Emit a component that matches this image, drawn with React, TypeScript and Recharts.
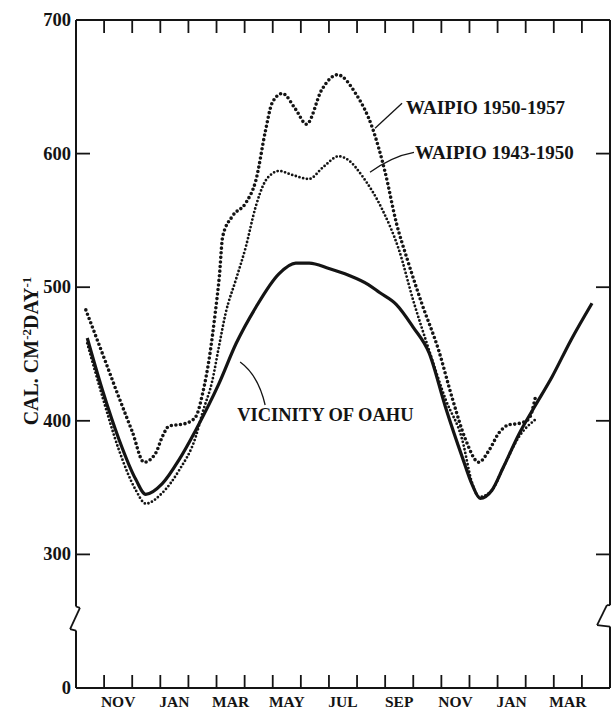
import React from 'react';
import { LineChart, Line, XAxis, YAxis, ReferenceDot, ReferenceLine } from 'recharts';

// x is a month index: 0 = 1 Oct, 19 = 1 May of the second year
const monthTicks = [1, 2, 3, 4, 5, 6, 7, 8, 9, 10, 11, 12, 13, 14, 15, 16, 17, 18];
const monthLabels = ['NOV', 'JAN', 'MAR', 'MAY', 'JUL', 'SEP', 'NOV', 'JAN', 'MAR'];
const monthLabelAt = [1.5, 3.5, 5.5, 7.5, 9.5, 11.5, 13.5, 15.5, 17.5];
const X_DOMAIN: [number, number] = [0, 19];

// axis is broken below 300, the 200 position carries the "0" label
const yTicks = [200, 300, 400, 500, 600, 700];
const yTickLabels = ['0', '300', '400', '500', '600', '700'];
const yInnerTicks = [300, 400, 500, 600];
const Y_DOMAIN: [number, number] = [200, 700];

const oahuMonths = [0.4, 0.94, 1.53, 2.13, 2.48, 3.07, 3.67, 4.26, 5.09, 5.7, 6.4, 7.22, 7.82, 8.3, 9.0, 9.7, 10.4, 10.8, 11.4, 12.0, 12.56, 13.15, 13.74, 14.1, 14.38, 14.8, 15.2, 15.76, 16.3, 16.94, 17.6, 18.36];
const oahuValues = [462, 423, 386, 356, 345, 353, 371, 393, 428, 458, 485, 510, 518, 518, 514, 509, 502, 496, 487, 470, 451, 410, 373, 352, 342, 348, 365, 390, 410, 433, 460, 488];

const waipio5057Months = [0.35, 1.0, 1.5, 2.0, 2.42, 2.84, 3.07, 3.31, 3.9, 4.26, 4.5, 4.75, 4.95, 5.1, 5.22, 5.56, 6.04, 6.4, 6.75, 6.98, 7.34, 7.82, 8.2, 8.75, 9.3, 9.95, 10.55, 11.0, 11.4, 11.8, 12.3, 12.9, 13.4, 13.86, 14.33, 14.7, 15.05, 15.4, 15.76, 16.1, 16.35];
const waipio5057Values = [483, 447, 419, 392, 369, 376, 388, 396, 398, 403, 420, 448, 480, 508, 538, 553, 563, 580, 618, 638, 645, 633, 622, 648, 659, 645, 619, 586, 548, 520, 488, 453, 416, 386, 369, 378, 391, 397, 398, 401, 418];

const waipio4350Months = [0.4, 0.94, 1.53, 2.13, 2.48, 3.07, 3.67, 4.26, 4.5, 4.85, 5.09, 5.33, 5.68, 6.04, 6.39, 6.7, 6.98, 7.22, 7.7, 8.29, 8.8, 9.35, 9.7, 10.19, 10.9, 11.49, 12.0, 12.56, 13.15, 13.74, 14.1, 14.35, 14.8, 15.2, 15.76, 16.35];
const waipio4350Values = [458, 418, 378, 348, 338, 346, 363, 388, 406, 430, 456, 481, 505, 530, 560, 578, 585, 587, 584, 581, 590, 598, 595, 583, 558, 528, 490, 453, 416, 386, 353, 343, 348, 365, 388, 401];

const toPoints = (months: number[], values: number[]) =>
  months.map((m, i) => ({ m, v: values[i] }));

const oahu = toPoints(oahuMonths, oahuValues);
const waipio5057 = toPoints(waipio5057Months, waipio5057Values);
const waipio4350 = toPoints(waipio4350Months, waipio4350Values);

const INK = '#141414';
const FONT = '"Liberation Serif", "DejaVu Serif", serif';

type Seg = [{ x: number; y: number }, { x: number; y: number }];
const seg = (x1: number, y1: number, x2: number, y2: number): Seg => [
  { x: x1, y: y1 },
  { x: x2, y: y2 },
];

// zigzag break marks on both vertical axes, between 243 and 262
const breakSegments: Seg[] = [
  seg(0, 261, 0.14, 260),
  seg(0.14, 260, -0.21, 244),
  seg(-0.21, 244, 0, 243),
  seg(19, 262, 18.89, 262),
  seg(18.89, 262, 18.54, 247),
  seg(18.54, 247, 19, 246),
];

// inward tick marks: anchored on the axis value, drawn as a short stroke
type TickMark = { x: number; y: number; dx: number; dy: number };
const tickMarks: TickMark[] = [
  ...monthTicks.map((m) => ({ x: m, y: 700, dx: 0, dy: 13 })),
  ...monthTicks.map((m) => ({ x: m, y: 200, dx: 0, dy: -13 })),
  ...yInnerTicks.map((v) => ({ x: 0, y: v, dx: 14, dy: 0 })),
  ...yInnerTicks.map((v) => ({ x: 19, y: v, dx: -14, dy: 0 })),
];

const tickShape = (dx: number, dy: number) => (props: any) => {
  const { cx, cy } = props;
  return (
    <g transform={`translate(${cx},${cy})`}>
      <path d={`M0,0L${dx},${dy}`} fill="none" stroke={INK} strokeWidth={1.8} />
    </g>
  );
};

const renderMonthLabel = (props: any) => {
  const { x, y, payload } = props;
  const label = monthLabels[monthLabelAt.indexOf(payload.value)];
  return (
    <text x={x} y={y + 19} textAnchor="middle" fontFamily={FONT} fontWeight="bold" fontSize={15.5} fill={INK}>
      {label}
    </text>
  );
};

const renderLeftLabel = (props: any) => {
  const { x, y, payload } = props;
  const label = yTickLabels[yTicks.indexOf(payload.value)];
  return (
    <text x={x - 5} y={y + 6} textAnchor="end" fontFamily={FONT} fontWeight="bold" fontSize={18.5} fill={INK}>
      {label}
    </text>
  );
};

// rotated unit title beside the left axis
const UnitTitle = ({ viewBox }: any) => {
  const { x, y, height } = viewBox;
  const cy = y + height * 0.5 - 3;
  return (
    <text
      transform={`translate(${x + 38},${cy}) rotate(-90)`}
      textAnchor="middle"
      fontFamily={FONT}
      fontWeight="bold"
      fontSize={20}
      fill={INK}
    >
      CAL. CM<tspan dy={-7} fontSize={13}>-2</tspan>
      <tspan dy={7}>DAY</tspan>
      <tspan dy={-7} fontSize={13}>-1</tspan>
    </text>
  );
};

// series name with a thin leader running to its curve
const callout = (text: string, leader: string, tx: number, ty: number, size: number) => (props: any) => {
  const { cx, cy } = props;
  return (
    <g transform={`translate(${cx},${cy})`}>
      <path d={leader} fill="none" stroke={INK} strokeWidth={1.3} />
      <text x={tx} y={ty} fontFamily={FONT} fontWeight="bold" fontSize={size} fill={INK}>
        {text}
      </text>
    </g>
  );
};

export default function App() {
  return (
    <div style={{ position: 'absolute', left: 0, top: 0, width: 611, height: 710, background: '#fff' }}>
      <LineChart width={611} height={710} data={oahu} margin={{ top: 0, right: 0, bottom: 0, left: 0 }}>
        <XAxis
          xAxisId="bottom"
          dataKey="m"
          type="number"
          domain={X_DOMAIN}
          ticks={monthLabelAt}
          interval={0}
          tickSize={0}
          tickMargin={0}
          tickLine={false}
          tick={renderMonthLabel}
          axisLine={{ stroke: INK, strokeWidth: 2 }}
          height={22}
        />
        <XAxis
          xAxisId="top"
          orientation="top"
          dataKey="m"
          type="number"
          domain={X_DOMAIN}
          ticks={monthTicks}
          tick={false}
          tickLine={false}
          axisLine={{ stroke: INK, strokeWidth: 2 }}
          height={20}
        />
        <YAxis
          yAxisId="left"
          type="number"
          domain={Y_DOMAIN}
          ticks={yTicks}
          interval={0}
          width={76}
          tickSize={0}
          tickMargin={0}
          tickLine={false}
          axisLine={false}
          tick={renderLeftLabel}
          label={{ content: UnitTitle }}
        />
        <YAxis
          yAxisId="right"
          orientation="right"
          type="number"
          domain={Y_DOMAIN}
          ticks={yTicks}
          width={1}
          tick={false}
          tickLine={false}
          axisLine={false}
        />
        {/* vertical frame lines, interrupted where the scale is broken */}
        <ReferenceLine xAxisId="bottom" yAxisId="left" segment={seg(0, 700, 0, 261)} stroke={INK} strokeWidth={2} ifOverflow="visible" />
        <ReferenceLine xAxisId="bottom" yAxisId="left" segment={seg(0, 243, 0, 200)} stroke={INK} strokeWidth={2} ifOverflow="visible" />
        <ReferenceLine xAxisId="bottom" yAxisId="left" segment={seg(19, 700, 19, 262)} stroke={INK} strokeWidth={2} ifOverflow="visible" />
        <ReferenceLine xAxisId="bottom" yAxisId="left" segment={seg(19, 246, 19, 200)} stroke={INK} strokeWidth={2} ifOverflow="visible" />
        {breakSegments.map((s, i) => (
          <ReferenceLine key={`b${i}`} xAxisId="bottom" yAxisId="left" segment={s} stroke={INK} strokeWidth={1.8} ifOverflow="visible" />
        ))}
        {tickMarks.map((t, i) => (
          <ReferenceDot
            key={`t${i}`}
            xAxisId="bottom"
            yAxisId="left"
            x={t.x}
            y={t.y}
            r={0}
            ifOverflow="visible"
            shape={tickShape(t.dx, t.dy)}
          />
        ))}
        <Line
          xAxisId="bottom"
          yAxisId="left"
          data={oahu}
          dataKey="v"
          type="monotone"
          stroke={INK}
          strokeWidth={3.2}
          dot={false}
          isAnimationActive={false}
        />
        <Line
          xAxisId="bottom"
          yAxisId="left"
          data={waipio5057}
          dataKey="v"
          type="monotone"
          stroke={INK}
          strokeWidth={3.6}
          strokeDasharray="0 4.6"
          strokeLinecap="round"
          dot={false}
          isAnimationActive={false}
        />
        <Line
          xAxisId="bottom"
          yAxisId="left"
          data={waipio4350}
          dataKey="v"
          type="monotone"
          stroke={INK}
          strokeWidth={2.8}
          strokeDasharray="0 3.8"
          strokeLinecap="round"
          dot={false}
          isAnimationActive={false}
        />
        <ReferenceDot
          xAxisId="bottom"
          yAxisId="left"
          x={10.64}
          y={619}
          r={0}
          shape={callout('WAIPIO 1950-1957', 'M0,0L27,-25', 31, -14, 19)}
        />
        <ReferenceDot
          xAxisId="bottom"
          yAxisId="left"
          x={10.46}
          y={586}
          r={0}
          shape={callout('WAIPIO 1943-1950', 'M0,0Q22,-16 44,-20', 45, -13, 19)}
        />
        <ReferenceDot
          xAxisId="bottom"
          yAxisId="left"
          x={5.84}
          y={444}
          r={0}
          shape={callout('VICINITY OF OAHU', 'M0,0Q18,13 25,43', -3, 59, 18.5)}
        />
      </LineChart>
    </div>
  );
}
